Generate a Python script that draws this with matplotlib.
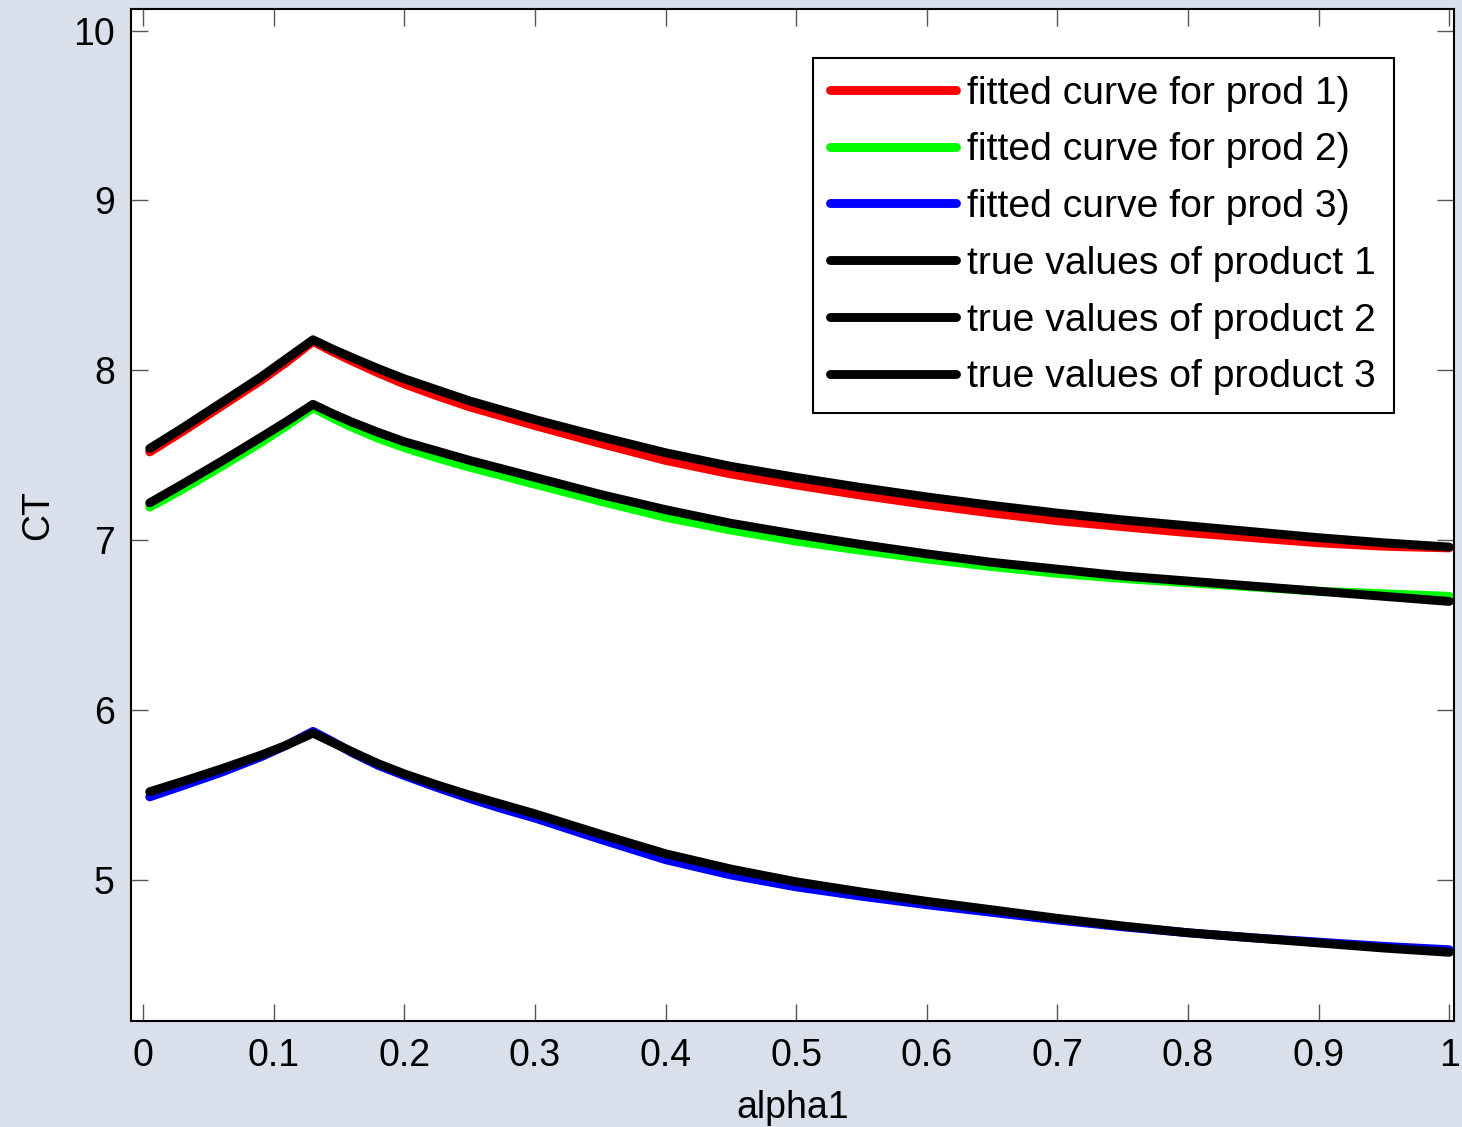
import matplotlib
matplotlib.use("Agg")
import matplotlib.pyplot as plt
import numpy as np

plt.rcParams['font.family'] = ['Liberation Sans', 'DejaVu Sans']

# alpha1 sample points
alpha1 = [0.005, 0.03, 0.06, 0.09, 0.11, 0.13, 0.145, 0.16, 0.18, 0.20,
          0.225, 0.25, 0.275, 0.30, 0.35, 0.40, 0.45, 0.50, 0.55, 0.60,
          0.65, 0.70, 0.75, 0.80, 0.85, 0.90, 0.95, 1.00]

# fitted curves
fit_p1 = [7.52, 7.64, 7.79, 7.94, 8.05, 8.17, 8.11, 8.055, 7.985, 7.92,
          7.85, 7.785, 7.73, 7.675, 7.57, 7.47, 7.39, 7.325, 7.265, 7.21,
          7.16, 7.115, 7.08, 7.045, 7.015, 6.985, 6.965, 6.955]
fit_p2 = [7.195, 7.30, 7.435, 7.575, 7.675, 7.78, 7.72, 7.665, 7.60, 7.545,
          7.485, 7.43, 7.38, 7.33, 7.23, 7.135, 7.06, 6.995, 6.94, 6.89,
          6.845, 6.805, 6.775, 6.75, 6.725, 6.70, 6.685, 6.67]
fit_p3 = [5.49, 5.555, 5.635, 5.725, 5.795, 5.875, 5.815, 5.75, 5.675, 5.615,
          5.545, 5.48, 5.42, 5.365, 5.24, 5.12, 5.03, 4.96, 4.905, 4.855,
          4.81, 4.765, 4.725, 4.69, 4.66, 4.635, 4.61, 4.59]

# true values
true_p1 = [7.54, 7.66, 7.81, 7.96, 8.07, 8.18, 8.125, 8.075, 8.01, 7.95,
           7.885, 7.82, 7.765, 7.71, 7.61, 7.515, 7.435, 7.37, 7.31, 7.255,
           7.205, 7.16, 7.12, 7.085, 7.05, 7.015, 6.985, 6.96]
true_p2 = [7.22, 7.33, 7.465, 7.605, 7.70, 7.80, 7.745, 7.695, 7.635, 7.58,
           7.525, 7.47, 7.42, 7.37, 7.27, 7.18, 7.10, 7.035, 6.975, 6.92,
           6.87, 6.83, 6.79, 6.76, 6.73, 6.70, 6.67, 6.64]
true_p3 = [5.52, 5.58, 5.655, 5.735, 5.795, 5.865, 5.81, 5.755, 5.685, 5.625,
           5.56, 5.50, 5.445, 5.39, 5.27, 5.155, 5.065, 4.99, 4.93, 4.875,
           4.825, 4.775, 4.73, 4.69, 4.66, 4.63, 4.60, 4.575]

xticks = [0, 0.1, 0.2, 0.3, 0.4, 0.5, 0.6, 0.7, 0.8, 0.9, 1]
xtick_labels = ['0', '0.1', '0.2', '0.3', '0.4', '0.5', '0.6', '0.7', '0.8', '0.9', '1']
yticks = [5, 6, 7, 8, 9, 10]

fig = plt.figure(figsize=(14.62, 11.27), dpi=100, facecolor='#dae0eb')
ax = fig.add_axes([0.0899, 0.0941, 0.9045, 0.8975])
ax.set_facecolor('white')

lw = 6.4
style = dict(lw=lw, solid_capstyle='round', solid_joinstyle='round')
ax.plot(alpha1, fit_p1, color=(1, 0, 0), label='fitted curve for prod 1)', **style)
ax.plot(alpha1, fit_p2, color=(0, 1, 0), label='fitted curve for prod 2)', **style)
ax.plot(alpha1, fit_p3, color=(0, 0, 1), label='fitted curve for prod 3)', **style)
ax.plot(alpha1, true_p1, color='black', label='true values of product 1', **style)
ax.plot(alpha1, true_p2, color='black', label='true values of product 2', **style)
ax.plot(alpha1, true_p3, color='black', label='true values of product 3', **style)

ax.set_xlim(-0.009, 1.0035)
ax.set_ylim(4.171, 10.124)
ax.set_xticks(xticks)
ax.set_xticklabels(xtick_labels)
ax.set_yticks(yticks)

ax.tick_params(direction='in', length=12, width=1, color='#555555',
               top=True, right=True, labelsize=27, pad=12)
for sp in ax.spines.values():
    sp.set_linewidth(1.5)
    sp.set_color('black')

ax.set_xlabel('alpha1', fontsize=27, labelpad=12)
ax.set_ylabel('CT', fontsize=27, labelpad=12)

leg = ax.legend(loc='upper right', bbox_to_anchor=(0.9546, 0.952),
                borderaxespad=0, fontsize=28.2, handlelength=3.2,
                handletextpad=0.3, labelspacing=0.53, borderpad=0.45,
                fancybox=False, framealpha=1, edgecolor='black')
leg.get_frame().set_linewidth(1.5)

fig.savefig('out.png', dpi=100, facecolor=fig.get_facecolor())
